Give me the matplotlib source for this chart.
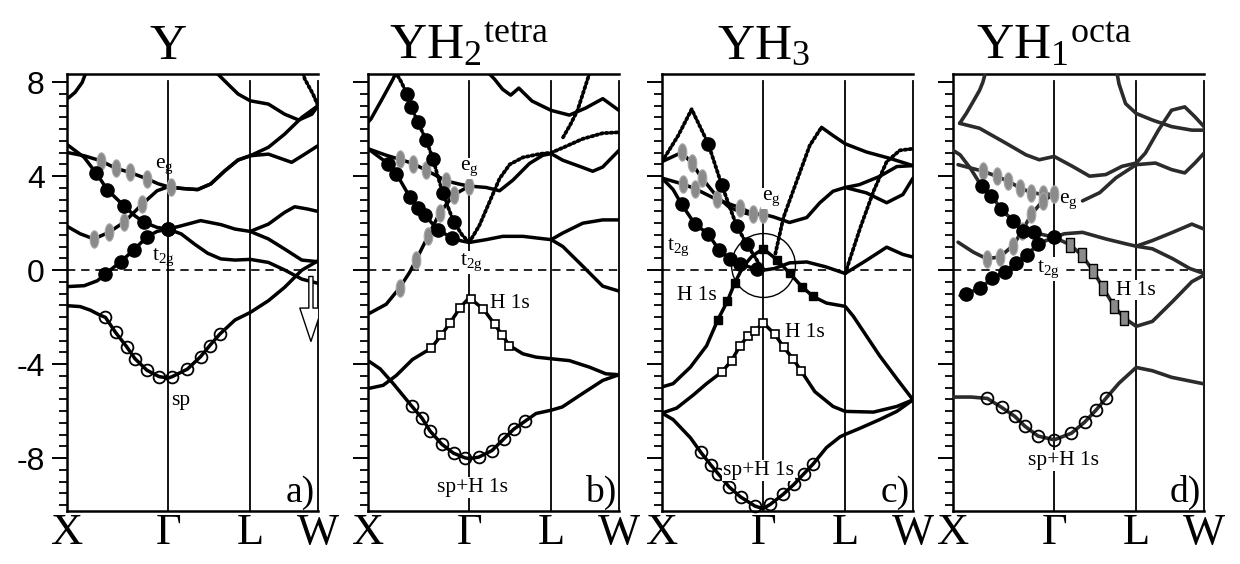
import numpy as np
import matplotlib
matplotlib.use("Agg")
import matplotlib.pyplot as plt
from matplotlib.path import Path
from matplotlib.ticker import MultipleLocator
from matplotlib.transforms import blended_transform_factory
from matplotlib.patches import FancyArrowPatch

plt.rcParams['mathtext.fontset'] = 'custom'
plt.rcParams['mathtext.rm'] = 'Liberation Serif'
plt.rcParams['mathtext.it'] = 'Liberation Serif:italic'
plt.rcParams['mathtext.bf'] = 'Liberation Serif:bold'
plt.rcParams['axes.unicode_minus'] = False

# ---------------------------------------------------------------- k path
K_POINTS = [0.0, 1.0, 1.81, 2.48]
K_LABELS = ['X', 'Γ', 'L', 'W']
E_MIN, E_MAX = -10.25, 8.35
TITLES = [r'Y', r'$\mathrm{YH}_2{}^{\mathrm{tetra}}$', r'$\mathrm{YH}_3$',
          r'$\mathrm{YH}_1{}^{\mathrm{octa}}$']
PANEL_TAGS = ['a)', 'b)', 'c)', 'd)']

# ---------------------------------------------------------------- (a) Y
a_sp_k = [0, .13, .23, .31, .38, .48, .59, .67, .79, .91, 1.0, 1.04, 1.19, 1.32, 1.41, 1.51, 1.66, 1.81, 1.99, 2.15, 2.32, 2.48]
a_sp_E = [-1.51, -1.55, -1.70, -1.88, -2.01, -2.65, -3.26, -3.76, -4.26, -4.53, -4.59, -4.53, -4.21, -3.68, -3.21, -2.72, -2.12, -1.80, -1.30, -0.73, 0.00, 0.40]
a_sp_mk_k = [.38, .48, .59, .67, .79, .91, 1.04, 1.19, 1.32, 1.41, 1.51]
a_sp_mk_E = [-2.01, -2.65, -3.26, -3.76, -4.26, -4.53, -4.53, -4.21, -3.68, -3.21, -2.72]

a_t2lo_k = [0, .17, .30, .38, .53, .66, .79, .89, 1.0, 1.13, 1.26, 1.39, 1.52, 1.66, 1.81, 1.99, 2.15, 2.32, 2.48]
a_t2lo_E = [-0.70, -0.66, -0.45, -0.16, 0.36, 0.86, 1.42, 1.65, 1.75, 1.54, 1.11, 0.72, 0.48, 0.43, 0.46, 0.33, 0.01, -0.38, -0.56]
a_t2lo_mk_k = [.38, .53, .66, .79, 1.0]
a_t2lo_mk_E = [-0.16, 0.36, 0.86, 1.42, 1.75]

a_t2hi_k = [0, .17, .29, .40, .56, .66, .76, .89, 1.0, 1.13, 1.32, 1.52, 1.66, 1.81, 1.99, 2.15, 2.32, 2.48]
a_t2hi_E = [5.35, 4.80, 4.12, 3.42, 2.75, 2.35, 2.04, 1.82, 1.75, 1.89, 2.11, 1.94, 1.75, 1.65, 1.33, 0.90, 0.43, 0.36]
a_t2hi_mk_k = [.29, .40, .56, .76, 1.0]
a_t2hi_mk_E = [4.12, 3.42, 2.75, 2.04, 1.75]

a_lw_k = [1.81, 1.99, 2.15, 2.25, 2.38, 2.48]
a_lw_E = [1.65, 1.96, 2.46, 2.70, 2.60, 2.50]

a_eglo_k = [0, .13, .265, .414, .563, .66, .745, .89, 1.0, 1.13, 1.29, 1.42, 1.56, 1.69, 1.81, 1.99, 2.15, 2.32, 2.48]
a_eglo_E = [1.87, 1.55, 1.33, 1.61, 2.04, 2.45, 2.82, 3.38, 3.55, 3.48, 3.43, 3.67, 4.23, 4.69, 4.87, 5.23, 5.79, 6.50, 7.00]
a_eghi_k = [0, .17, .331, .48, .623, .795, .90, 1.0, 1.13, 1.29, 1.42, 1.56, 1.69, 1.81, 1.99, 2.22, 2.35, 2.48]
a_eghi_E = [5.01, 4.87, 4.66, 4.34, 4.16, 3.88, 3.68, 3.55, 3.48, 3.43, 3.67, 4.23, 4.69, 4.87, 4.94, 4.59, 4.94, 5.30]
a_eg_mk_k = [.265, .414, .563, .745, 1.026, .331, .48, .623, .795]
a_eg_mk_E = [1.33, 1.61, 2.04, 2.82, 3.52, 4.66, 4.34, 4.16, 3.88]

a_top1_k = [0, .02, .08, .15, .19]
a_top1_E = [7.30, 7.35, 7.57, 7.99, 8.45]
a_top2_k = [1.49, 1.59, 1.69, 1.81, 1.99, 2.15, 2.29, 2.42, 2.48]
a_top2_E = [8.35, 7.92, 7.50, 7.21, 7.07, 6.64, 6.39, 6.64, 7.00]
a_top3_k = [2.33, 2.35, 2.43, 2.48]
a_top3_E = [8.40, 8.13, 7.50, 7.00]

a_arrow_k = 2.41
a_arrow_E = (-0.15, -3.15)

# ---------------------------------------------------------------- (b) YH2 tetra
b_sp_k = [0, .12, .25, .433, .532, .614, .730, .845, .96, 1.0, 1.092, 1.224, 1.34, 1.439, 1.554, 1.66, 1.81, 1.92, 2.12, 2.32, 2.48]
b_sp_E = [-3.85, -4.20, -4.83, -5.79, -6.29, -6.85, -7.41, -7.79, -7.99, -8.02, -7.96, -7.68, -7.19, -6.77, -6.42, -6.10, -5.96, -5.82, -5.25, -4.69, -4.45]
b_sp_mk_k = [.433, .532, .614, .730, .845, .96, 1.092, 1.224, 1.34, 1.439, 1.554]
b_sp_mk_E = [-5.79, -6.29, -6.85, -7.41, -7.79, -7.99, -7.96, -7.68, -7.19, -6.77, -6.42]

b_h_k = [0, .15, .28, .44, .625, .724, .813, .911, 1.0, 1.141, 1.25, 1.326, 1.398, 1.53, 1.66, 1.81, 1.99, 2.19, 2.35, 2.48]
b_h_E = [-5.04, -4.90, -4.48, -3.80, -3.32, -2.76, -2.23, -1.59, -1.17, -1.66, -2.30, -2.76, -3.21, -3.56, -3.70, -3.77, -3.85, -4.13, -4.41, -4.45]
b_h_mk_k = [.625, .724, .813, .911, 1.02, 1.141, 1.25, 1.326, 1.398]
b_h_mk_E = [-3.32, -2.76, -2.23, -1.59, -1.21, -1.66, -2.30, -2.76, -3.21]

b_eglo_k = [0, .18, .3125, .41, .477, .592, .707, .845, 1.0, 1.168, 1.30, 1.431, 1.595, 1.727, 1.81, 1.924, 2.122, 2.22, 2.319, 2.48]
b_eglo_E = [-1.87, -1.45, -0.75, -0.10, 0.45, 1.44, 2.42, 3.20, 3.58, 3.52, 3.38, 3.83, 4.54, 4.89, 4.96, 4.68, 4.37, 4.21, 4.39, 5.10]
b_eghi_k = [0, .181, .3125, .444, .576, .773, .905, 1.0]
b_eghi_E = [5.17, 4.89, 4.72, 4.54, 4.25, 3.80, 3.66, 3.58]
b_eg_mk_k = [.3125, .477, .592, .707, .845, 1.0, .3125, .444, .576, .773]
b_eg_mk_E = [-0.75, 0.45, 1.44, 2.42, 3.20, 3.58, 4.72, 4.54, 4.25, 3.80]

b_t2a_k = [0, .197, .28, .411, .493, .56, .69, .83, .92, 1.0, 1.168, 1.332, 1.53, 1.727, 1.81, 1.924, 2.122, 2.319, 2.48]
b_t2a_E = [5.17, 4.54, 4.11, 3.13, 2.63, 2.35, 1.72, 1.37, 1.25, 1.18, 1.30, 1.44, 1.44, 1.34, 1.30, 1.01, 0.17, -0.68, -0.89]
b_t2a_mk_k = [.197, .28, .411, .493, .56, .69, .83]
b_t2a_mk_E = [4.54, 4.11, 3.13, 2.63, 2.35, 1.72, 1.37]
b_t2b_k = [.27, .33, .385, .428, .493, .576, .641, .69, .74, .845, .93, 1.0]
b_t2b_E = [8.45, 8.0, 7.49, 6.93, 6.30, 5.52, 4.75, 4.0, 3.27, 2.07, 1.50, 1.18]
b_t2b_mk_k = [.385, .428, .493, .576, .641, .74, .845]
b_t2b_mk_E = [7.49, 6.93, 6.30, 5.52, 4.75, 3.27, 2.07]
b_lup_k = [1.81, 1.924, 2.122, 2.319, 2.48]
b_lup_E = [1.30, 1.58, 2.00, 2.14, 2.14]

b_rise_k = [1.0, 1.1, 1.2, 1.3, 1.4, 1.53, 1.7, 1.81, 1.924, 2.122, 2.319, 2.48]
b_rise_E = [1.18, 1.90, 2.90, 3.90, 4.50, 4.80, 4.95, 5.00, 5.21, 5.59, 5.83, 5.87]
b_top1_k = [0, .03, .148, .247, .28]
b_top1_E = [6.30, 6.44, 7.35, 8.13, 8.45]
b_top2_k = [1.19, 1.25, 1.33, 1.41, 1.49, 1.62, 1.81, 1.99, 2.15, 2.32, 2.48]
b_top2_E = [8.40, 8.13, 7.70, 7.45, 7.75, 7.20, 6.80, 6.60, 6.90, 7.30, 6.80]
b_top3_k = [2.19, 2.13, 2.07, 2.0, 1.92]
b_top3_E = [8.40, 7.60, 6.80, 6.20, 5.60]

# ---------------------------------------------------------------- (c) YH3
c_sp_k = [0, .11, .28, .385, .48, .556, .664, .776, .918, 1.0, 1.072, 1.197, 1.303, 1.401, 1.493, 1.625, 1.76, 1.81, 1.95, 2.15, 2.32, 2.48]
c_sp_E = [-6.08, -6.36, -7.13, -7.76, -8.28, -8.67, -9.23, -9.65, -10.04, -10.15, -9.96, -9.54, -9.12, -8.67, -8.25, -7.55, -7.09, -6.99, -6.74, -6.36, -6.01, -5.52]
c_sp_mk_k = [.385, .48, .556, .664, .776, .918, 1.072, 1.197, 1.303, 1.401, 1.493]
c_sp_mk_E = [-7.76, -8.28, -8.67, -9.23, -9.65, -10.04, -9.96, -9.54, -9.12, -8.67, -8.25]

c_h_k = [0, .145, .31, .44, .589, .688, .77, .849, .918, 1.0, 1.115, 1.204, 1.296, 1.372, 1.51, 1.69, 1.81, 2.09, 2.32, 2.48]
c_h_E = [-6.08, -5.87, -5.31, -4.83, -4.34, -3.85, -3.22, -2.80, -2.59, -2.24, -2.73, -3.29, -3.78, -4.27, -5.17, -5.80, -6.01, -6.04, -5.80, -5.52]
c_h_mk_k = [.589, .688, .77, .849, .918, 1.0, 1.115, 1.204, 1.296, 1.372]
c_h_mk_E = [-4.34, -3.85, -3.22, -2.80, -2.59, -2.24, -2.73, -3.29, -3.78, -4.27]

c_hf_k = [0, .11, .28, .44, .553, .645, .72, .80, .89, 1.0, 1.135, 1.263, 1.382, 1.493, 1.625, 1.81, 1.89, 2.02, 2.15, 2.32, 2.48]
c_hf_E = [-4.97, -4.83, -4.13, -3.22, -2.10, -1.33, -0.53, 0.14, 0.60, 0.91, 0.45, -0.14, -0.70, -1.12, -1.40, -1.54, -1.96, -2.80, -3.64, -4.62, -5.52]
c_hf_mk_k = [.553, .645, .72, 1.0, 1.135, 1.263, 1.382, 1.493]
c_hf_mk_E = [-2.10, -1.33, -0.53, 0.91, 0.45, -0.14, -0.70, -1.12]

c_t2_k = [0, .11, .194, .326, .457, .566, .671, .77, .934, 1.0, 1.11, 1.26, 1.43, 1.62, 1.81, 2.02, 2.22, 2.38, 2.48]
c_t2_E = [3.92, 3.43, 2.80, 1.96, 1.54, 0.84, 0.49, 0.28, 0.03, 0.0, 0.07, 0.31, 0.35, 0.14, -0.14, 0.42, 0.98, 0.67, 0.56]
c_t2_mk_k = [.194, .326, .457, .566, .671, .77, .934]
c_t2_mk_E = [2.80, 1.96, 1.54, 0.84, 0.49, 0.28, 0.03]

c_pk_k = [0, .16, .293, .457, .589, .737, .836, .918, 1.0]
c_pk_E = [4.62, 5.73, 6.85, 5.38, 3.64, 1.89, 1.12, 0.56, 0.0]
c_pk_mk_k = [.457, .589, .737, .836]
c_pk_mk_E = [5.38, 3.64, 1.89, 1.12]

c_g1_k = [0, .194, .293, .391, .539, .67, .80, .90, 1.0]
c_g1_E = [4.62, 5.01, 4.57, 3.94, 3.15, 2.66, 2.45, 2.35, 2.38]
c_g2_k = [0, .21, .326, .539, .77, .90, 1.0, 1.1, 1.26, 1.43, 1.56, 1.69, 1.81, 1.95, 2.15, 2.32, 2.48]
c_g2_E = [3.92, 3.66, 3.47, 3.01, 2.66, 2.40, 2.38, 2.27, 2.03, 2.24, 2.87, 3.36, 3.52, 3.64, 3.99, 4.41, 4.45]
c_eg_mk_k = [.194, .293, .391, .21, .326, .539, .77, .90, 1.0]
c_eg_mk_E = [5.01, 4.57, 3.94, 3.66, 3.47, 3.01, 2.66, 2.40, 2.38]
c_lw_k = [1.81, 2.02, 2.22, 2.38, 2.48]
c_lw_E = [3.52, 3.29, 2.87, 3.22, 3.92]

c_rise_dot_k = [1.12, 1.2, 1.33, 1.46, 1.576]
c_rise_dot_E = [0.70, 2.24, 3.78, 5.31, 6.08]
c_rise_k = [1.576, 1.69, 1.81, 2.02, 2.25, 2.48]
c_rise_E = [6.08, 5.73, 5.38, 5.03, 4.76, 4.45]
c_lrise_k = [1.81, 1.96, 2.09, 2.22, 2.35, 2.48]
c_lrise_E = [-0.14, 1.82, 3.36, 4.62, 5.10, 5.17]
c_ring_k, c_ring_E = 1.0, 0.2

# ---------------------------------------------------------------- (d) YH1 octa
d_sp_k = [0, .18, .34, .48, .61, .71, .84, 1.0, 1.17, 1.30, 1.41, 1.51, 1.64, 1.81, 1.97, 2.16, 2.48]
d_sp_E = [-5.40, -5.40, -5.46, -5.84, -6.22, -6.64, -7.06, -7.22, -6.94, -6.47, -5.97, -5.46, -4.81, -4.14, -4.28, -4.56, -4.84]
d_sp_mk_k = [.34, .48, .61, .71, .84, 1.0, 1.17, 1.30, 1.41, 1.51]
d_sp_mk_E = [-5.46, -5.84, -6.22, -6.64, -7.06, -7.22, -6.94, -6.47, -5.97, -5.46]

d_h_k = [1.0, 1.157, 1.275, 1.386, 1.485, 1.593, 1.691, 1.81, 1.97, 2.17, 2.36, 2.48]
d_h_E = [1.40, 1.08, 0.63, -0.04, -0.77, -1.54, -2.03, -2.39, -2.18, -1.33, -0.49, -0.21]
d_h_mk_k = [1.157, 1.275, 1.386, 1.485, 1.593, 1.691]
d_h_mk_E = [1.08, 0.63, -0.04, -0.77, -1.54, -2.03]

d_t2lo_k = [.07, .128, .265, .39, .51, .626, .73, .839, 1.0]
d_t2lo_E = [-1.08, -1.01, -0.77, -0.35, -0.07, 0.32, 0.63, 1.12, 1.40]
d_t2hi_k = [0, .07, .17, .282, .38, .479, .593, .691, .8, .9, 1.0, 1.1, 1.28, 1.51, 1.71, 1.81, 1.97, 2.17, 2.36, 2.48]
d_t2hi_E = [5.10, 4.91, 4.35, 3.58, 3.16, 2.59, 2.10, 1.68, 1.61, 1.50, 1.40, 1.55, 1.61, 1.33, 1.12, 1.02, 1.26, 1.61, 1.96, 1.75]
d_t2_mk_k = [.128, .265, .39, .51, .626, .73, .839, 1.0, .282, .38, .479, .593, .691, .8]
d_t2_mk_E = [-1.01, -0.77, -0.35, -0.07, 0.32, 0.63, 1.12, 1.40, 3.58, 3.16, 2.59, 2.10, 1.68, 1.61]
d_ldn_k = [1.81, 1.97, 2.17, 2.34, 2.48]
d_ldn_E = [1.02, 0.91, 0.49, 0.07, -0.14]

d_eghi_k = [.05, .298, .43, .544, .659, .774, .888, 1.0]
d_eghi_E = [4.49, 4.21, 4.0, 3.79, 3.51, 3.30, 3.23, 3.23]
d_eglo_k = [.05, .2, .331, .462, .593, .685, .774, .888, 1.0]
d_eglo_E = [1.19, .77, .49, .56, 1.05, 1.68, 2.38, 2.95, 3.23]
d_eg_mk_k = [.298, .43, .544, .659, .774, .888, 1.0, .331, .462, .593, .685, .774, .888]
d_eg_mk_E = [4.21, 4.0, 3.79, 3.51, 3.30, 3.23, 3.23, .49, .56, 1.05, 1.68, 2.38, 2.95]
d_egr_k = [1.28, 1.45, 1.61, 1.81, 2.0, 2.16, 2.29, 2.39, 2.48]
d_egr_E = [2.95, 3.30, 3.93, 4.49, 4.56, 4.28, 4.14, 4.56, 4.98]

d_b4_k = [.066, .262, .525, .721, .852, 1.0, 1.18, 1.35, 1.51, 1.67, 1.81, 1.90, 2.03, 2.16, 2.29, 2.39, 2.48]
d_b4_E = [6.25, 6.04, 5.40, 4.91, 4.70, 4.84, 4.42, 4.0, 4.07, 4.42, 4.56, 4.98, 5.96, 6.81, 6.95, 6.53, 6.11]
d_top1_k = [.066, .131, .197, .262, .295, .32]
d_top1_E = [6.25, 6.67, 7.16, 7.65, 8.0, 8.4]
d_top2_k = [1.62, 1.64, 1.705, 1.81, 1.97, 2.16, 2.36, 2.48]
d_top2_E = [8.40, 7.93, 7.09, 6.67, 6.39, 6.11, 5.96, 5.96]

# ---------------------------------------------------------------- styles
LW = 2.5
SOLID = dict(color='black', lw=LW, solid_capstyle='round', zorder=3)
DOTTED = dict(color='black', lw=2.7, ls=(0, (0.5, 0.8)), dash_capstyle='round', zorder=3)
TEXTURED = dict(color='#2b2b2b', lw=2.6, solid_capstyle='round', zorder=3)

_t = np.linspace(0, 2 * np.pi, 48)
ELLIPSE_PATH = Path(np.column_stack([0.5 * np.cos(_t), np.sin(_t)]), closed=True)
RECT_PATH = Path([(-0.3, -0.5), (0.3, -0.5), (0.3, 0.5), (-0.3, 0.5), (-0.3, -0.5)], closed=True)

M_FILLED = dict(ls='none', marker='o', ms=9.5, mfc='black', mec='black', zorder=6)
M_ELLIPSE = dict(ls='none', marker=ELLIPSE_PATH, ms=12.5, mfc='#8a8a8a', mec='#a8a8a8', mew=0.8, zorder=6)
M_OCIRC = dict(ls='none', marker='o', ms=8.5, mfc='none', mec='black', mew=1.3, zorder=6)
M_OSQ = dict(ls='none', marker='s', ms=5.8, mfc='white', mec='black', mew=1.2, zorder=6)
M_FSQ = dict(ls='none', marker='s', ms=5.8, mfc='black', mec='black', mew=1.0, zorder=6)
M_GRECT = dict(ls='none', marker=RECT_PATH, ms=10, mfc='#8a8a8a', mec='black', mew=1.0, zorder=6)

LABEL_FONT = dict(family='Liberation Serif', fontsize=15.5, zorder=7)
WHITE_BOX = dict(facecolor='white', edgecolor='none', pad=0.6)

fig = plt.figure(figsize=(12.4, 5.64), dpi=100)
lefts = [67, 368, 662, 953]
axes = []
for i, lx in enumerate(lefts):
    ax = fig.add_axes([lx / 1240, 1 - 511 / 564, 251 / 1240, 437 / 564])
    axes.append(ax)
    ax.set_xlim(K_POINTS[0], K_POINTS[-1])
    ax.set_ylim(E_MIN, E_MAX)
    ax.spines['right'].set_visible(False)
    for s in ('top', 'bottom', 'left'):
        ax.spines[s].set_linewidth(1.8)
    ax.set_xticks(K_POINTS)
    ax.set_xticklabels(K_LABELS, family='Liberation Serif', fontsize=32)
    ax.tick_params(axis='x', length=0, pad=1.5)
    ax.set_yticks([-8, -4, 0, 4, 8])
    ax.yaxis.set_minor_locator(MultipleLocator(0.5))
    ax.tick_params(axis='y', which='major', direction='out', length=11, width=1.4,
                   labelsize=23, pad=5, labelleft=(i == 0))
    ax.tick_params(axis='y', which='minor', direction='out', length=6, width=1.3)
    for lab in ax.get_yticklabels():
        lab.set_family('Liberation Sans')
    for kx in K_POINTS[1:]:
        ax.axvline(kx, ymin=0, ymax=0.985, color='black', lw=1.3, zorder=2, clip_on=False)
    ax.axhline(0, color='black', lw=1.2, dashes=(5, 3.5), zorder=2)
    trans = blended_transform_factory(ax.transData, ax.transAxes)
    ax.text(K_POINTS[1], 1.035, TITLES[i], transform=trans, ha='center', va='baseline',
            family='Liberation Serif', fontsize=37)
    ax.text(2.45, -9.85, PANEL_TAGS[i], ha='right', va='baseline',
            family='Liberation Serif', fontsize=27, zorder=7)

ax_a, ax_b, ax_c, ax_d = axes

# ---- (a)
for k, e in [(a_sp_k, a_sp_E), (a_t2lo_k, a_t2lo_E), (a_t2hi_k, a_t2hi_E), (a_lw_k, a_lw_E),
             (a_eglo_k, a_eglo_E), (a_eghi_k, a_eghi_E), (a_top1_k, a_top1_E), (a_top2_k, a_top2_E)]:
    ax_a.plot(k, e, **SOLID)
ax_a.plot(a_top3_k, a_top3_E, **DOTTED)
ax_a.plot(a_sp_mk_k, a_sp_mk_E, **M_OCIRC)
ax_a.plot(a_eg_mk_k, a_eg_mk_E, **M_ELLIPSE)
ax_a.plot(a_t2lo_mk_k, a_t2lo_mk_E, **M_FILLED)
ax_a.plot(a_t2hi_mk_k, a_t2hi_mk_E, **M_FILLED)
ax_a.add_patch(FancyArrowPatch((a_arrow_k, a_arrow_E[0]), (a_arrow_k, a_arrow_E[1]),
                               arrowstyle='simple,head_width=1.6,head_length=2.4,tail_width=0.3',
                               mutation_scale=10, facecolor='white', edgecolor='black', lw=1.0, zorder=6))
ax_a.text(0.87, 4.35, r'e$_\mathrm{g}$', **LABEL_FONT)
ax_a.text(0.84, 0.45, r't$_\mathrm{2g}$', **LABEL_FONT)
ax_a.text(1.03, -5.75, 'sp', **LABEL_FONT)

# ---- (b)
for k, e in [(b_sp_k, b_sp_E), (b_h_k, b_h_E), (b_eglo_k, b_eglo_E), (b_eghi_k, b_eghi_E),
             (b_t2a_k, b_t2a_E), (b_lup_k, b_lup_E), (b_top1_k, b_top1_E), (b_top2_k, b_top2_E)]:
    ax_b.plot(k, e, **SOLID)
for k, e in [(b_t2b_k, b_t2b_E), (b_rise_k, b_rise_E), (b_top3_k, b_top3_E)]:
    ax_b.plot(k, e, **DOTTED)
ax_b.plot(b_sp_mk_k, b_sp_mk_E, **M_OCIRC)
ax_b.plot(b_h_mk_k, b_h_mk_E, **M_OSQ)
ax_b.plot(b_eg_mk_k, b_eg_mk_E, **M_ELLIPSE)
ax_b.plot(b_t2a_mk_k, b_t2a_mk_E, **M_FILLED)
ax_b.plot(b_t2b_mk_k, b_t2b_mk_E, **M_FILLED)
ax_b.text(0.91, 4.25, r'e$_\mathrm{g}$', bbox=WHITE_BOX, **LABEL_FONT)
ax_b.text(0.91, 0.2, r't$_\mathrm{2g}$', bbox=WHITE_BOX, **LABEL_FONT)
ax_b.text(1.21, -1.62, 'H 1s', **LABEL_FONT)
ax_b.text(0.68, -9.45, 'sp+H 1s', bbox=WHITE_BOX, **LABEL_FONT)

# ---- (c)
for k, e in [(c_sp_k, c_sp_E), (c_h_k, c_h_E), (c_hf_k, c_hf_E), (c_t2_k, c_t2_E),
             (c_g1_k, c_g1_E), (c_g2_k, c_g2_E), (c_lw_k, c_lw_E), (c_rise_k, c_rise_E)]:
    ax_c.plot(k, e, **SOLID)
for k, e in [(c_pk_k, c_pk_E), (c_rise_dot_k, c_rise_dot_E), (c_lrise_k, c_lrise_E)]:
    ax_c.plot(k, e, **DOTTED)
ax_c.plot(c_sp_mk_k, c_sp_mk_E, clip_on=False, **M_OCIRC)
ax_c.plot(c_h_mk_k, c_h_mk_E, **M_OSQ)
ax_c.plot(c_hf_mk_k, c_hf_mk_E, **M_FSQ)
ax_c.plot(c_eg_mk_k, c_eg_mk_E, **M_ELLIPSE)
ax_c.plot(c_t2_mk_k, c_t2_mk_E, **M_FILLED)
ax_c.plot(c_pk_mk_k, c_pk_mk_E, **M_FILLED)
ax_c.plot([c_ring_k], [c_ring_E], ls='none', marker='o', ms=46, mfc='none', mec='black', mew=1.0, zorder=6)
ax_c.text(0.99, 2.98, r'e$_\mathrm{g}$', bbox=WHITE_BOX, **LABEL_FONT)
ax_c.text(0.05, 0.85, r't$_\mathrm{2g}$', **LABEL_FONT)
ax_c.text(0.15, -1.28, 'H 1s', **LABEL_FONT)
ax_c.text(1.22, -2.85, 'H 1s', **LABEL_FONT)
ax_c.text(0.6, -8.72, 'sp+H 1s', bbox=WHITE_BOX, **LABEL_FONT)

# ---- (d)
for k, e in [(d_sp_k, d_sp_E), (d_h_k, d_h_E), (d_t2lo_k, d_t2lo_E), (d_t2hi_k, d_t2hi_E),
             (d_ldn_k, d_ldn_E), (d_eghi_k, d_eghi_E), (d_eglo_k, d_eglo_E), (d_egr_k, d_egr_E),
             (d_b4_k, d_b4_E), (d_top1_k, d_top1_E), (d_top2_k, d_top2_E)]:
    ax_d.plot(k, e, **TEXTURED)
ax_d.plot(d_sp_mk_k, d_sp_mk_E, **M_OCIRC)
ax_d.plot(d_h_mk_k, d_h_mk_E, **M_GRECT)
ax_d.plot(d_eg_mk_k, d_eg_mk_E, **M_ELLIPSE)
ax_d.plot(d_t2_mk_k, d_t2_mk_E, **M_FILLED)
ax_d.text(1.05, 2.88, r'e$_\mathrm{g}$', **LABEL_FONT)
ax_d.text(0.83, -0.07, r't$_\mathrm{2g}$', bbox=WHITE_BOX, **LABEL_FONT)
ax_d.text(1.61, -1.04, 'H 1s', bbox=WHITE_BOX, **LABEL_FONT)
ax_d.text(0.74, -8.28, 'sp+H 1s', bbox=WHITE_BOX, **LABEL_FONT)

fig.savefig('out.png', dpi=100)
